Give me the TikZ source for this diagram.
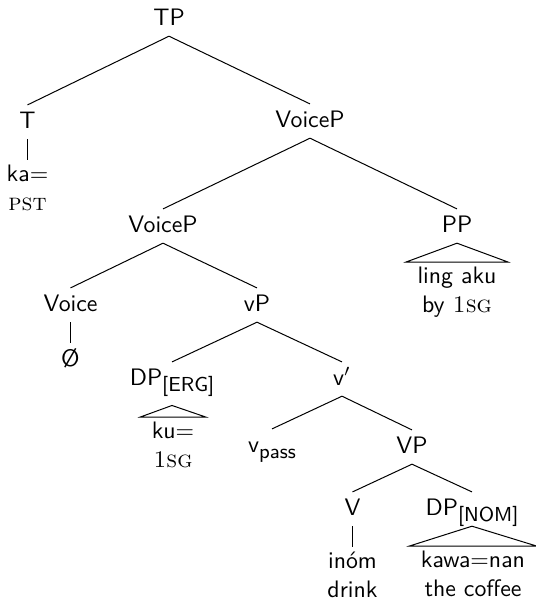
\documentclass[tikz,border=0pt]{standalone}
\newcommand{\gl}[1]{\textrm{\textsc{#1}}}
\newcommand{\lowered}[1]{\raisebox{-2.8pt}{\fontsize{8.5}{10}\selectfont #1}}
\begin{document}
\begin{tikzpicture}[x=0.42pt,y=-0.42pt,
  every node/.style={font=\sffamily},
  cat/.style={anchor=base, inner xsep=2pt, inner ysep=2.5pt, text height=7pt, text depth=2pt},
  leaf/.style={anchor=north, inner xsep=2pt, inner ysep=2pt, align=center},
  roofleaf/.style={leaf, inner xsep=4.6pt},
  branch/.style={line width=0.42pt}]
\useasboundingbox (0,0) rectangle (536,600);

% category labels (placed by baseline)
\node[cat] (TP)     at (169,25)  {TP};
\node[cat] (T)      at (27.5,128)  {T};
\node[cat] (VoiceP) at (310,127) {VoiceP};
\node[cat] (VoicePl) at (163,232) {VoiceP};
\node[cat] (PP)     at (457,232) {PP};
\node[cat] (Voice)  at (70.5,311)  {Voice};
\node[cat] (vP)     at (257,311) {vP};
\node[cat, text depth=5.9pt] (DPerg) at (172,385) {DP\lowered{[ERG]}};
\node[cat] (vbar)   at (342,385) {v$'$};
\node[cat] (vpass)  at (272,452) {v\lowered{pass}};
\node[cat] (VP)     at (412,453) {VP};
\node[cat] (V)      at (352.5,515) {V};
\node[cat] (DPnom)  at (472,515) {DP\lowered{[NOM]}};

% terminals
\node[leaf] (ka)    at (27.5,160)  {ka$=$\\\gl{pst}};
\node[leaf] (null)  at (70.5,343)  {Ø};
\node[roofleaf] (ling) at (457,262) {ling aku\\by \gl{1sg}};
\node[roofleaf] (ku)   at (173,417) {ku$=$\\\gl{1sg}};
\node[leaf] (inom)  at (352.5,547) {inóm\\drink};
\node[roofleaf] (kawa) at (473,546) {kawa$=$nan\\the coffee};

% branches
\draw[branch] (TP.south) -- (T.north);
\draw[branch] (TP.south) -- (VoiceP.north);
\draw[branch] (T.south) -- (ka.north);
\draw[branch] (VoiceP.south) -- (VoicePl.north);
\draw[branch] (VoiceP.south) -- (PP.north);
\draw[branch] (PP.south) -- (ling.north west) -- (ling.north east) -- cycle;
\draw[branch] (VoicePl.south) -- (Voice.north);
\draw[branch] (VoicePl.south) -- (vP.north);
\draw[branch] (Voice.south) -- (null.north);
\draw[branch] (vP.south) -- (DPerg.north);
\draw[branch] (vP.south) -- (vbar.north);
\draw[branch] (DPerg.south) -- (ku.north west) -- (ku.north east) -- cycle;
\draw[branch] (vbar.south) -- (vpass.north);
\draw[branch] (vbar.south) -- (VP.north);
\draw[branch] (VP.south) -- (V.north);
\draw[branch] (VP.south) -- (DPnom.north);
\draw[branch] (V.south) -- (inom.north);
\draw[branch] (DPnom.south) -- (kawa.north west) -- (kawa.north east) -- cycle;
\end{tikzpicture}
\end{document}
